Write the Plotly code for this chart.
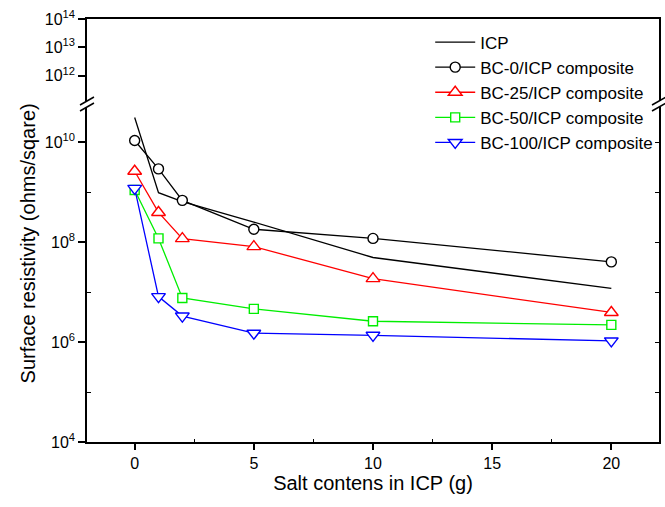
import plotly.graph_objects as go

salt = [0, 1, 2, 5, 10, 20]
icp = [3.1e10, 9.7e8, 6.4e8, 2.5e8, 4.9e7, 1.18e7]
bc0 = [1.07e10, 2.9e9, 6.8e8, 1.8e8, 1.18e8, 4.0e7]
bc25 = [2.6e9, 3.9e8, 1.17e8, 8.1e7, 1.85e7, 3.9e6]
bc50 = [1.1e9, 1.18e8, 7.6e6, 4.6e6, 2.6e6, 2.2e6]
bc100 = [1.18e9, 8.1e6, 3.3e6, 1.5e6, 1.36e6, 1.05e6]

lower_ticks = [1e4, 1e6, 1e8, 1e10]
lower_text = ["10<sup>4</sup>", "10<sup>6</sup>", "10<sup>8</sup>", "10<sup>10</sup>"]
upper_ticks = [1e12, 1e13, 1e14]
upper_text = ["10<sup>12</sup>", "10<sup>13</sup>", "10<sup>14</sup>"]

FONT = "Liberation Sans, Arial, sans-serif"
W, H = 665, 507
L, R, T, B = 87, 4, 19, 65
PW, PH = W - L - R, H - T - B
ybreak_px = 104
d = (H - B - ybreak_px) / PH

fig = go.Figure()

series = [
    ("ICP", icp, "black", None, 0),
    ("BC-0/ICP composite", bc0, "black", "circle", 10),
    ("BC-25/ICP composite", bc25, "#ff0000", "triangle-up", 12),
    ("BC-50/ICP composite", bc50, "#00ee00", "square", 9),
    ("BC-100/ICP composite", bc100, "#0000ff", "triangle-down", 12),
]
for name, vals, col, sym, sz in series:
    if sym is None:
        fig.add_trace(go.Scatter(x=salt, y=vals, name=name, mode="lines",
                                 line=dict(color=col, width=1.3)))
    else:
        fig.add_trace(go.Scatter(x=salt, y=vals, name=name, mode="lines+markers",
                                 line=dict(color=col, width=1.3),
                                 marker=dict(symbol=sym, size=sz, color="white",
                                             line=dict(color=col, width=1.4))))

axis_common = dict(showline=True, linecolor="black", linewidth=1.5, showgrid=False,
                   zeroline=False, tickfont=dict(family=FONT, size=16, color="black"))

fig.update_layout(
    width=W, height=H,
    margin=dict(l=L, r=R, t=T, b=B),
    paper_bgcolor="white", plot_bgcolor="white",
    font=dict(family=FONT, color="black"),
    showlegend=True,
    legend=dict(x=0.6, y=0.987, xanchor="left", yanchor="top",
                font=dict(family=FONT, size=17, color="black"),
                bgcolor="rgba(0,0,0,0)", itemwidth=40),
    xaxis=dict(range=[-2, 22], tickvals=[0, 5, 10, 15, 20], ticks="outside",
               ticklen=6, tickwidth=1.5, tickcolor="black", mirror=False, anchor="y",
               minor=dict(tickvals=[2.5, 7.5, 12.5, 17.5], ticks="inside", ticklen=3,
                          tickcolor="black", tickwidth=1.2),
               title=dict(text="Salt contens in ICP (g)", font=dict(family=FONT, size=20),
                          standoff=5),
               **axis_common),
    xaxis2=dict(range=[-2, 22], overlaying="x", anchor="y2", side="top",
                showticklabels=False, ticks="", showline=True, linecolor="black",
                linewidth=1.5, showgrid=False, zeroline=False),
    yaxis=dict(type="log", range=[4, 4 + (H - B - ybreak_px) / 50], domain=[0, d],
               tickvals=lower_ticks, ticktext=lower_text, ticks="outside", ticklen=7,
               tickwidth=1.5, tickcolor="black", mirror=True, anchor="x",
               minor=dict(tickvals=[1e5, 1e7, 1e9], ticks="inside", ticklen=4,
                          tickcolor="black", tickwidth=1.2),
               **axis_common),
    yaxis2=dict(type="log", range=[11, 14], domain=[d, 1],
                tickvals=upper_ticks, ticktext=upper_text, ticks="outside", ticklen=7,
                tickwidth=1.5, tickcolor="black", mirror=True, anchor="x",
                **axis_common),
    yaxis3=dict(type="log", range=[4, 4 + (H - B - ybreak_px) / 50], domain=[0, d],
                overlaying="y", side="right", anchor="x", showticklabels=False,
                tickvals=[1e5, 1e6, 1e7, 1e8, 1e9, 1e10], ticks="inside", ticklen=4,
                tickwidth=1.2, tickcolor="black", showline=False, showgrid=False,
                zeroline=False),
)
# dummy traces to activate yaxis3 / xaxis2
fig.add_trace(go.Scatter(x=[None], y=[None], xaxis="x", yaxis="y3", showlegend=False,
                         hoverinfo="skip"))
fig.add_trace(go.Scatter(x=[None], y=[None], xaxis="x2", yaxis="y2", showlegend=False,
                         hoverinfo="skip"))

fig.add_annotation(text="Surface resistivity (ohms/sqare)", textangle=-90,
                   xref="paper", yref="paper", x=(28 - L) / PW, y=0.47,
                   xanchor="center", yanchor="middle", showarrow=False,
                   font=dict(family=FONT, size=20, color="black"))

# axis break marks
px = 1.0 / PW
py = 1.0 / PH
for xc in (0.0, 1.0):
    fig.add_shape(type="line", xref="paper", yref="paper",
                  x0=xc, x1=xc, y0=d - 3 * py, y1=d + 3 * py,
                  line=dict(color="white", width=4))
    for off in (-3, 3):
        fig.add_shape(type="line", xref="paper", yref="paper",
                      x0=xc - 7 * px, x1=xc + 7 * px,
                      y0=d + (off - 4) * py, y1=d + (off + 4) * py,
                      line=dict(color="black", width=1.5))

fig.write_html("out.html", config={"displayModeBar": False},
               post_script="document.body.style.margin='0';document.body.style.overflow='hidden';")
